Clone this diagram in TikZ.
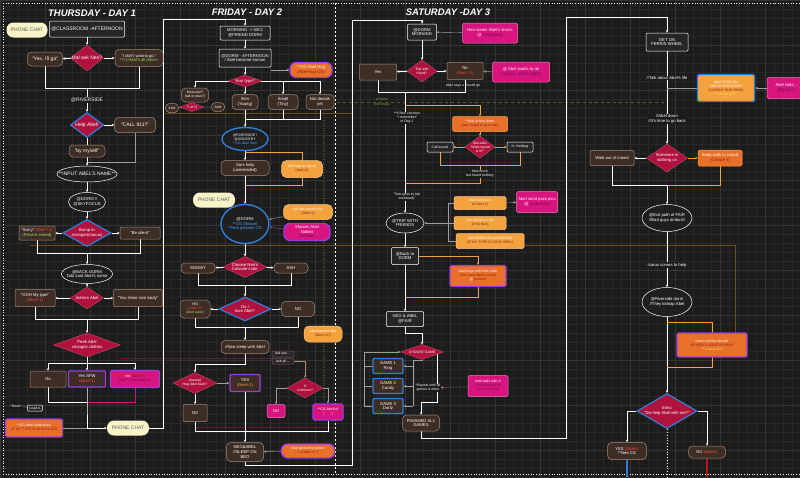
\documentclass[tikz,border=0pt]{standalone}
\usepackage{fontspec}
\setmainfont{Liberation Sans}
\usetikzlibrary{shapes.geometric,arrows.meta}
\definecolor{bg}{HTML}{1C1C1C}
\definecolor{gridc}{HTML}{282828}
\definecolor{gridm}{HTML}{343434}
\definecolor{brownf}{HTML}{3D2D24}
\definecolor{brownd}{HTML}{9E8B7B}
\definecolor{crim}{HTML}{B0123E}
\definecolor{blueb}{HTML}{2F7FD8}
\definecolor{bluet}{HTML}{4AA3FF}
\definecolor{orangef}{HTML}{E8702A}
\definecolor{orangel}{HTML}{F3A23E}
\definecolor{magf}{HTML}{D8157F}
\definecolor{pinkb}{HTML}{F07AB8}
\definecolor{purb}{HTML}{9A3CE0}
\definecolor{creamf}{HTML}{F8F4C8}
\definecolor{redt}{HTML}{FF4545}
\definecolor{greent}{HTML}{9FE060}
\definecolor{subo}{HTML}{8A1C12}
\definecolor{subm}{HTML}{6E0D45}
\definecolor{faintor}{HTML}{6E4A20}
\definecolor{faintred}{HTML}{6A1A30}
\definecolor{olivef}{HTML}{5A5A22}
\definecolor{redl}{HTML}{C01818}
\definecolor{cgy}{HTML}{FFE14A}
\pgfdeclarelayer{gridl}
\pgfdeclarelayer{edges}
\pgfsetlayers{gridl,edges,main}
\tikzset{
 txt/.style={font=\fontsize{5}{5.7}\selectfont, align=center, text=white, inner sep=0.8pt},
 tny/.style={font=\fontsize{4.2}{4.8}\selectfont},
 micro/.style={font=\fontsize{3.5}{4}\selectfont},
 hdr/.style={font=\bfseries\itshape\fontsize{9.5}{10}\selectfont, text=white},
 pill/.style={txt, rounded corners=4pt, draw=brownd, fill=brownf, line width=0.5pt},
 bbox/.style={txt, rounded corners=1pt, draw=brownd, fill=brownf, line width=0.5pt},
 dbox/.style={txt, rounded corners=1pt, draw=white!80, fill=black!85, line width=0.5pt},
 dia/.style={shape=diamond, fill=crim, draw=crim!70!white, line width=0.3pt, inner sep=0pt},
 bdia/.style={dia, draw=blueb, line width=1.2pt},
 dlab/.style={txt, inner sep=0pt},
 ell/.style={shape=ellipse, draw=white!85, fill=black!88, line width=0.5pt, inner sep=0pt},
 bell/.style={ell, draw=blueb, line width=1.4pt},
 cream/.style={txt, rounded corners=7pt, fill=creamf, text=black!65},
 orng/.style={txt, rounded corners=1.5pt, fill=orangef, draw=orangel, line width=0.5pt},
 orpl/.style={txt, rounded corners=5pt, fill=orangel, draw=orangel!60!white, line width=0.5pt},
 orp/.style={txt, rounded corners=1.5pt, fill=orangef, draw=purb, line width=1.3pt},
 mag/.style={txt, rounded corners=1.5pt, fill=magf, draw=pinkb, line width=0.5pt},
 magp/.style={mag, draw=purb, line width=1.3pt},
 gbox/.style={txt, rounded corners=1pt, fill=brownf, draw=blueb, line width=1.4pt},
 note/.style={txt, fill=bg, inner sep=0.6pt},
 flow/.style={draw=white!92, line width=1pt},
 oflow/.style={draw=orangel, line width=1pt},
 thn/.style={draw=gray!75, line width=0.4pt},
 arr/.style={-{Stealth[length=2.6pt,width=2.4pt]}},
}
\begin{document}
\begin{tikzpicture}[x=1pt,y=-1pt]
\useasboundingbox (0,0) rectangle (800,477);
\begin{pgfonlayer}{gridl}
\fill[bg] (0,0) rectangle (800,477);
\foreach \g in {0,9,...,800} \draw[gridc, line width=0.3pt] (\g,0) -- (\g,477);
\foreach \g in {0,9,...,477} \draw[gridc, line width=0.3pt] (0,\g) -- (800,\g);
\foreach \g in {0,45,...,800} \draw[gridm, line width=0.4pt] (\g,0) -- (\g,477);
\foreach \g in {0,45,...,477} \draw[gridm, line width=0.4pt] (0,\g) -- (800,\g);
\draw[white!70, dotted, line width=0.6pt] (3,3) -- (800,3);
\draw[white!70, dotted, line width=0.6pt] (3,474) -- (800,474);
\draw[white!70, dotted, line width=0.6pt] (3,3) -- (3,474);
\draw[white!80, dash pattern=on 2pt off 2pt, line width=0.5pt] (335,3) -- (335,474);
\draw[olivef, dotted, line width=0.6pt] (323,120) -- (323,400);
\draw[faintor, line width=0.6pt] (30,245) -- (735,245) -- (735,333);
\draw[faintor, line width=0.5pt] (165,113) -- (352,113);
\draw[olivef, dashed, line width=0.4pt] (337,102) -- (668,102);
\draw[faintred, line width=0.6pt] (120,358) -- (272,358);
\draw[faintred, line width=0.6pt] (195,427) -- (335,427);
\end{pgfonlayer}

% headers
\node[hdr] (h-thu) at (92,13) {THURSDAY - DAY 1};
\node[hdr] (h-fri) at (247,12) {FRIDAY - DAY 2};
\node[hdr] (h-sat) at (448,12) {SATURDAY -DAY 3};

% ---------------- THURSDAY ----------------
\node[cream, minimum width=41, minimum height=15] (t-phone1) at (27,30) {PHONE CHAT};
\node[dbox, minimum width=75, minimum height=16] (t-class) at (87,29) {@CLASSROOM -AFTERNOON};
\node[dia, minimum width=33, minimum height=26, label={[dlab]center:Mal ask Neo?}] (t-mal) at (87,58) {};
\node[pill, minimum width=35, minimum height=14] (t-yes) at (45,59) {"Yes, I'll go"};
\node[pill, tny, minimum width=48, minimum height=17] (t-no) at (139,58) {"I don't wanna go."\\\textcolor{greent}{**+1<Mal's all done>}};
\node[note] (t-riv) at (87,100) {@RIVERSIDE};
\node[bdia, minimum width=33, minimum height=25, label={[dlab]center:Help Abel!}] (t-help) at (87,125) {};
\node[pill, minimum width=41, minimum height=15] (t-911) at (135,125) {"CALL 911?"};
\node[pill, minimum width=36, minimum height=12] (t-self) at (87,151) {"by myself"};
\node[ell, minimum width=60, minimum height=16, label={[dlab]center:**INPUT ABEL'S NAME**}] (t-input) at (87,174) {};
\node[ell, minimum width=37, minimum height=19, label={[dlab,tny]center:{@DORM //\\@SKYFOCUS}}] (t-dorm) at (87,202) {};
\node[bdia, minimum width=48, minimum height=27, label={[dlab,tny]center:{Bump to\\stranger(manus)}}] (t-bump) at (87,233) {};
\node[bbox, tny, minimum width=36, minimum height=14] (t-sorry) at (37,233) {"Sorry" \textcolor{redt}{(Abel +1)}\\\textcolor{greent}{(Pervert ended)}};
\node[bbox, tny, minimum width=40, minimum height=12] (t-silent) at (140,233) {"Be silent"};
\node[ell, minimum width=51, minimum height=19, label={[dlab,tny]center:{@BACK DORM\\Tabi said Abel's name}}] (t-back) at (87,274) {};
\node[dia, minimum width=33, minimum height=22, label={[dlab,tny]center:Admire Abel}] (t-admire) at (87,298) {};
\node[bbox, tny, minimum width=40, minimum height=17] (t-ooh) at (35,298) {"OOH My type"\\\textcolor{redt}{(Abel+1)}};
\node[bbox, tny, minimum width=49, minimum height=17] (t-shine) at (138,298) {"You shine nice body"};
\node[dia, minimum width=67, minimum height=24, label={[dlab,tny]center:{Peek Abel\\changes clothes}}] (t-peek) at (87,345) {};
\node[bbox, tny, minimum width=36, minimum height=16] (t-pno) at (48,379) {No};
\node[bbox, tny, draw=purb, line width=1.2pt, minimum width=37, minimum height=16] (t-psfw) at (87,379) {Yes SFW\\\textcolor{redt}{(Abel+1)}};
\node[magp, micro, minimum width=49, minimum height=17] (t-pnsfw) at (135,379) {Yes \textcolor{subm}{(Abel+?)}\\\textcolor{subm}{(NSFW path unlock)}};
\node[dbox, micro, minimum width=15, minimum height=6] (t-load) at (35,408) {Load A};
\node[txt, micro] (t-soon) at (16,406) {*Soon*};
\node[orp, micro, minimum width=57, minimum height=18] (t-cgpose) at (34,428) {**CG Abel show pose\\\textcolor{subo}{(IF MY TYPE IS MUSCULAR)}};
\node[cream, minimum width=42, minimum height=15] (t-phone2) at (128,428) {PHONE CHAT};

% ---------------- FRIDAY ----------------
\node[dbox, tny, minimum width=50, minimum height=14] (f-morn) at (245,33) {MORNING -> NEO\\@FRIEND DORM};
\node[dbox, tny, minimum width=52, minimum height=18] (f-aft) at (245,58) {@DORM - AFTERNOON\\/ Abel become human};
\node[orp, tny, rounded corners=6pt, minimum width=42, minimum height=15] (f-hug) at (311,70) {**CG Abel Hug\\\textcolor{subo}{(Abel Hug CG)}};
\node[dia, minimum width=34, minimum height=12, label={[dlab,tny]center:Your type?}] (f-type) at (245,81) {};
\node[pill, micro, minimum width=27, minimum height=14] (f-musc) at (195,95) {Muscular?\\(tall or plus?)};
\node[dia, minimum width=24, minimum height=9, label={[dlab,micro]center:Y or N}] (f-yn) at (192,107) {};
\node[pill, micro, minimum width=13, minimum height=9] (t-abel) at (172,108) {Abel};
\node[pill, micro, minimum width=13, minimum height=9] (f-abel) at (218,107) {Abel};
\node[pill, tny, minimum width=26, minimum height=15] (f-slim) at (245,102) {Slim\\(Young)};
\node[pill, tny, minimum width=30, minimum height=15] (f-small) at (283,102) {Small\\(Tiny)};
\node[pill, tny, minimum width=28, minimum height=15] (f-notd) at (320,102) {Not decide\\yet};
\node[bell, minimum width=46, minimum height=23, label={[dlab,micro]center:{@RIVERSIDE /\\@GROCERY\\\textcolor{bluet}{**CG Abel Sam}}}] (f-riv) at (245,139) {};
\node[pill, tny, minimum width=48, minimum height=15] (f-sors) at (245,168) {Sors help\\(unintended)};
\node[orpl, micro, minimum width=41, minimum height=17] (f-askhelp) at (302,169) {Ask help us (para)\\\textcolor{subo}{(Abel+1)}};
\node[cream, minimum width=42, minimum height=15] (f-phone) at (214,200) {PHONE CHAT};
\node[bell, minimum width=48, minimum height=39, label={[dlab,tny]center:{@DORM\\\textcolor{bluet}{**CG Shower}\\\textcolor{bluet}{**Neo glasses CG}}}] (f-dorm) at (245,224) {};
\node[orpl, micro, minimum width=49, minimum height=15] (f-natural) at (308,212) {Ask abt natural look\\\textcolor{subo}{(Abel+1)}};
\node[magp, tny, rounded corners=6pt, minimum width=46, minimum height=17] (f-shower) at (307,232) {Shower Abel\\Naked\\\textcolor{subm}{(unlock)}};
\node[dia, minimum width=44, minimum height=21, label={[dlab,tny]center:{Choose Neo's\\furisode color}}] (f-choose) at (245,267) {};
\node[pill, tny, minimum width=34, minimum height=10] (f-snowy) at (198,268) {SNOWY};
\node[pill, tny, minimum width=34, minimum height=10] (f-ash) at (291,268) {ASH};
\node[bdia, minimum width=52, minimum height=24, label={[dlab,tny]center:{Do I\\love Abel?}}] (f-love) at (245,309) {};
\node[pill, micro, minimum width=30, minimum height=18] (f-yes) at (195,309) {YES\\\textcolor{redt}{(Abel+?)}\\\textcolor{greent}{(Abel party)}};
\node[pill, tny, minimum width=33, minimum height=15] (f-no) at (298,309) {NO};
\node[orpl, micro, minimum width=38, minimum height=16] (f-become) at (323,334) {Abel become like\\\textcolor{subo}{(Abel+1/?)}};
\node[pill, tny, minimum width=48, minimum height=13] (f-sleep) at (245,347) {//Neo sleep with Abel};
\node[dbox, micro, draw=pinkb!60!black, minimum width=22, minimum height=6, inner sep=0.3pt] (f-ask1) at (283,354) {Ask you ...};
\node[dbox, micro, draw=pinkb!60!black, minimum width=22, minimum height=6, inner sep=0.3pt] (f-ask2) at (283,361) {Ask all ...};
\node[dia, minimum width=44, minimum height=21, label={[dlab,micro]center:{(sweep)\\Hug Abel back?}}] (f-hugb) at (195,383) {};
\node[bbox, tny, draw=purb, line width=1.2pt, minimum width=30, minimum height=17] (f-hyes) at (245,383) {YES\\\textcolor{orangel}{(Abel+1)}};
\node[dia, minimum width=36, minimum height=20, label={[dlab,micro]center:{If\\Continue?}}] (f-cont) at (305,388) {};
\node[bbox, tny, minimum width=24, minimum height=17] (f-hno) at (195,413) {NO};
\node[mag, tny, minimum width=18, minimum height=13] (f-cno) at (276,411) {NO};
\node[magp, micro, minimum width=30, minimum height=16] (f-cghit) at (328,412) {**CG Abel hit\\(\quad\quad)};
\node[pill, tny, minimum width=37, minimum height=19] (f-bed) at (245,452) {NEO\&ABEL\\//SLEEP ON\\BED};
\node[orp, micro, rounded corners=6pt, minimum width=53, minimum height=14] (f-potion) at (308,451) {Abel gives first potion\\\textcolor{subo}{( of Abel ++ )}};

% ---------------- SATURDAY ----------------
\node[dbox, tny, minimum width=29, minimum height=16] (s-dorm) at (422,32) {@DORM\\MORNING};
\node[mag, tny, minimum width=55, minimum height=20] (s-stare) at (490,33) {Neo stares Abel's shorts\\@ \textcolor{subm}{(unlocked)}};
\node[dia, minimum width=30, minimum height=22, label={[dlab,micro]center:{Trip with\\friend?}}] (s-trip) at (422,71) {};
\node[bbox, tny, minimum width=37, minimum height=16] (s-yes) at (378,72) {Yes};
\node[bbox, tny, minimum width=36, minimum height=17] (s-no) at (465,71) {No\\\textcolor{redt}{(Abel +1)}};
\node[txt, micro] (s-says) at (463,86) {Abel says u should go};
\node[mag, tny, minimum width=57, minimum height=20] (s-wants) at (521,72) {@ Abel wants to do\\\textcolor{subm}{(unlock: Abel's night)}};
\node[txt, micro, text=greent!75!black] (s-gt1) at (382,99) {to dorm};
\node[txt, micro, text=greent!75!black] (s-gt2) at (382,105) {Neo stays};
\node[note, micro] (s-if) at (407,118) {**If Neo chooses\\"I remember"\\in Day 1};
\node[orng, micro, minimum width=55, minimum height=15] (s-maldorm) at (480,124) {**Mal at Neo dorm\\\textcolor{subo}{(Neo forgot to go to trip)}};
\node[dia, minimum width=30, minimum height=22, label={[dlab,micro]center:{Mal asks\\"What would\\is it?"}}] (s-malask) at (480,147) {};
\node[dbox, micro, minimum width=26, minimum height=10] (s-call) at (440,147) {Call sound};
\node[dbox, micro, minimum width=26, minimum height=10] (s-noth) at (520,147) {N- Nothing};
\node[note, micro] (s-check) at (480,174) {Mal check\\but found nothing};
\node[note, micro] (s-goes) at (407,197) {"Neo goes to trip\\eventually"};
\node[ell, minimum width=38, minimum height=20, label={[dlab,tny]center:{@TRIP WITH\\FRIENDS}}] (s-tripf) at (405,223) {};
\node[orpl, micro, rounded corners=1.5pt, minimum width=52, minimum height=13] (s-box1) at (480,203) {Abel send pics\\\textcolor{subo}{(If Neo+1)}};
\node[orpl, micro, rounded corners=1.5pt, minimum width=52, minimum height=13] (s-box2) at (480,223) {Ask abt Neo's trip\\\textcolor{subo}{(If Nit Neo)}};
\node[orpl, micro, rounded corners=1.5pt, minimum width=68, minimum height=15] (s-box3) at (490,241) {Abel Reflect Crowd (MOON)\\\textcolor{subo}{(IF MY TYPE IS LOVE ABEL)}};
\node[mag, tny, minimum width=41, minimum height=21] (s-pack) at (537,202) {Abel send pack pics\\@ \textcolor{subm}{(unlocked)}};
\node[dbox, tny, minimum width=27, minimum height=17] (s-backd) at (405,256) {@Back to\\DORM};
\node[orp, micro, minimum width=56, minimum height=21] (s-hugs) at (478,276) {Abel hugs with Neo cloth\\\textcolor{subo}{(Neo gets Abel's scent)}\\@ \textcolor{subo}{(unlock)}};
\node[dbox, tny, minimum width=37, minimum height=15] (s-fair) at (405,319) {NEO \& ABEL\\@FAIR};
\node[dia, minimum width=43, minimum height=15, label={[dlab,micro]center:CHOOSE GAME}] (s-game) at (422,352) {};
\node[gbox, tny, minimum width=30, minimum height=15] (s-game1) at (388,366) {GAME 1\\Ring};
\node[gbox, tny, minimum width=30, minimum height=15] (s-game2) at (388,386) {GAME 2\\Candy};
\node[gbox, tny, minimum width=30, minimum height=15] (s-game3) at (388,406) {GAME 3\\Dartz};
\node[note, micro] (s-rep) at (428,388) {*Repeat until all\\games is done};
\node[mag, micro, minimum width=40, minimum height=21] (s-talks) at (488,386) {Abel talks with X\\\textcolor{subm}{(If Neo chose X)}\\\textcolor{subm}{(CG unlock X)}};
\node[pill, tny, minimum width=37, minimum height=16] (s-fin) at (421,423) {FINISHED ALL\\GAMES};

% ---------------- FERRIS ----------------
\node[dbox, tny, minimum width=42, minimum height=18] (r-ferris) at (667,42) {GET ON\\FERRIS WHEEL};
\node[note, tny] (r-talk) at (667,78) {//Talk about Abel's life};
\node[txt, micro, rounded corners=1.5pt, fill=orangel, draw=blueb, line width=1.4pt, minimum width=57, minimum height=27] (r-head) at (726,88) {Abel HEAD ON\\NEO'S SHOULDER\\\textcolor{subo}{(CUDDLE HUG RING)}\\\textcolor{cgy}{**unlock CG**}};
\node[mag, tny, minimum width=40, minimum height=21] (r-talks) at (787,88) {Abel talks ...\\\textcolor{subm}{(Elysia+1)}};
\node[note, tny] (r-down) at (667,119) {//Abel down\\//It's time to go back};
\node[dia, minimum width=41, minimum height=28, label={[dlab,tny]center:{Someone is\\stalking us}}] (r-stalk) at (667,158) {};
\node[bbox, tny, minimum width=44, minimum height=15] (r-walk) at (612,158) {Walk out of crowd};
\node[orng, tny, minimum width=44, minimum height=16] (r-keep) at (720,158) {Keep walk in crowd\\\textcolor{subo}{(Crowd+1)}};
\node[ell, minimum width=50, minimum height=27, label={[dlab,tny]center:{@Exit path of FAIR\\//Bad guys ambush}}] (r-exit) at (667,218) {};
\node[note, tny] (r-icarus) at (667,265) {Icarus comes to help};
\node[ell, minimum width=50, minimum height=29, label={[dlab,tny]center:{@Riverside dorm\\//They kidnap Abel}}] (r-rivd) at (667,302) {};
\node[orp, micro, minimum width=70, minimum height=24] (r-icd) at (712,345) {Icarus let Neo decide\\\textcolor{subo}{(IF ABEL'S LOVE IS HIGH)}\\** \textcolor{cgy}{unlock CG}};
\node[bdia, minimum width=60, minimum height=35, label={[dlab,tny]center:{Elmo\\"Do help Abel with me?"}}] (r-elmo) at (667,411) {};
\node[pill, tny, minimum width=39, minimum height=17] (r-yes) at (627,451) {YES \textcolor{redt}{(Abel+)}\\**Neo CG};
\node[pill, tny, minimum width=37, minimum height=12] (r-no) at (707,452) {NO \textcolor{redt}{(Abel+)}};

% coordinates
\coordinate (t-j1) at (87,88);
\coordinate (t-j2) at (87,162);
\coordinate (t-j3) at (87,253);
\coordinate (t-j4) at (87,319);
\coordinate (t-j5) at (87,363);
\coordinate (t-l5) at (48,363);
\coordinate (t-r5) at (135,363);
\coordinate (t-j6) at (87,402);
\coordinate (t-j7) at (87,428);
\coordinate (c-t1) at (163,19);
\coordinate (f-l) at (195,81);
\coordinate (f-m) at (283,81);
\coordinate (f-r) at (320,81);
\coordinate (f-j1) at (245,119);
\coordinate (f-o1) at (245,152);
\coordinate (f-o2) at (302,152);
\coordinate (f-o3) at (302,185);
\coordinate (f-o4) at (245,185);
\coordinate (f-j2) at (245,285);
\coordinate (f-j3) at (245,327);
\coordinate (f-j4) at (245,364);
\coordinate (f-j5) at (195,364);
\coordinate (f-j6) at (195,431);
\coordinate (f-j7) at (328,431);
\coordinate (c-f1) at (352,465);
\coordinate (c-f2) at (352,20);
\coordinate (s-j1) at (405,92);
\coordinate (s-j2) at (405,105);
\coordinate (s-j3) at (480,165);
\coordinate (s-j4) at (480,183);
\coordinate (s-j5) at (405,183);
\coordinate (s-b) at (448,223);
\coordinate (s-j6) at (405,297);
\coordinate (s-j7) at (405,333);
\coordinate (s-j8) at (422,333);
\coordinate (s-lb) at (364,352);
\coordinate (s-rt) at (413,360);
\coordinate (s-rb) at (413,406);
\coordinate (s-f1) at (437,402);
\coordinate (c-s1) at (566,438);
\coordinate (c-s2) at (566,17);
\coordinate (r-h) at (667,88);
\coordinate (r-j1) at (667,185);
\coordinate (r-o1) at (667,322);
\coordinate (r-o2) at (712,322);
\coordinate (r-o3) at (712,367);
\coordinate (r-o4) at (667,367);
\coordinate (r-yb) at (627,477);
\coordinate (r-nb) at (707,477);
\coordinate (r-eb) at (667,477);

\begin{pgfonlayer}{edges}
% Thursday
\draw[flow, arr] (t-class) -- (t-mal);
\draw[flow, arr] (t-mal) -- (t-yes);
\draw[flow, arr] (t-mal) -- (t-no);
\draw[flow] (t-yes) |- (t-j1);
\draw[flow] (t-no) |- (t-j1);
\draw[flow, arr] (t-j1) -- (t-help);
\draw[flow, arr] (t-help) -- (t-911);
\draw[flow] (t-help) -- (t-self);
\draw[thn] (t-911) |- (t-j2);
\draw[flow, arr] (t-self) -- (t-input);
\draw[flow, arr] (t-input) -- (t-dorm);
\draw[flow, arr] (t-dorm) -- (t-bump);
\draw[flow, arr] (t-bump) -- (t-sorry);
\draw[flow, arr] (t-bump) -- (t-silent);
\draw[flow] (t-sorry) |- (t-j3);
\draw[flow] (t-silent) |- (t-j3);
\draw[flow, arr] (t-j3) -- (t-back);
\draw[flow, arr] (t-back) -- (t-admire);
\draw[flow, arr] (t-admire) -- (t-ooh);
\draw[flow, arr] (t-admire) -- (t-shine);
\draw[flow] (t-ooh) |- (t-j4);
\draw[flow] (t-shine) |- (t-j4);
\draw[flow, arr] (t-j4) -- (t-peek);
\draw[flow] (t-peek) -- (t-j5);
\draw[flow] (t-l5) -- (t-r5);
\draw[flow, arr] (t-l5) -- (t-pno);
\draw[flow, arr] (t-j5) -- (t-psfw);
\draw[flow, arr] (t-r5) -- (t-pnsfw);
\draw[flow] (t-pno) |- (t-j6);
\draw[flow, draw=magf] (t-pnsfw) |- (t-j6);
\draw[flow] (t-psfw) -- (t-j6) -- (t-j7);
\draw[flow, arr] (t-j7) -- (t-phone2);
\draw[thn] (t-cgpose) -- (t-j7);
\draw[thn] (t-soon) -- (t-load);
\draw[flow, arr] (t-phone2) -| (c-t1) -| (f-morn);
% Friday
\draw[flow, arr] (f-morn) -- (f-aft);
\draw[thn, arr] (f-aft.east |- f-hug) -- (f-hug);
\draw[flow, arr] (f-aft) -- (f-type);
\draw[flow] (f-l) -- (f-r);
\draw[flow, arr] (f-l) -- (f-musc);
\draw[flow, arr] (f-type) -- (f-slim);
\draw[flow, arr] (f-m) -- (f-small);
\draw[flow, arr] (f-r) -- (f-notd);
\draw[thn] (t-abel) -- (f-yn) -- (f-abel);
\draw[flow] (f-slim) -- (f-j1);
\draw[flow] (f-small) |- (f-j1);
\draw[flow] (f-notd) |- (f-j1);
\draw[flow, arr] (f-j1) -- (f-riv);
\draw[flow, arr] (f-riv) -- (f-sors);
\draw[oflow, line width=0.8pt] (f-o1) -- (f-o2) -- (f-o3) -- (f-o4);
\draw[flow, arr] (f-sors) -- (f-dorm);
\draw[thn, arr] (f-natural) -- (f-dorm);
\draw[thn, draw=pinkb!60!black, arr] (f-shower) -- (f-dorm);
\draw[flow, arr] (f-dorm) -- (f-choose);
\draw[flow, arr] (f-choose) -- (f-snowy);
\draw[flow, arr] (f-choose) -- (f-ash);
\draw[flow] (f-snowy) |- (f-j2);
\draw[flow] (f-ash) |- (f-j2);
\draw[flow, arr] (f-j2) -- (f-love);
\draw[flow, arr] (f-love) -- (f-yes);
\draw[flow, arr] (f-love) -- (f-no);
\draw[flow] (f-yes) |- (f-j3);
\draw[flow] (f-no) |- (f-j3);
\draw[flow, arr] (f-j3) -- (f-sleep);
\draw[flow] (f-sleep) -- (f-j4) -- (f-j5);
\draw[flow, arr] (f-j5) -- (f-hugb);
\draw[thn, arr] (f-hugb) -- (f-hyes);
\draw[flow, arr] (f-hugb) -- (f-hno);
\draw[flow, arr] (f-hyes) -- (f-bed);
\draw[thn, draw=brownd, arr] (f-ask2) -| (f-cont);
\draw[thn, arr] (f-cont) -| (f-cno);
\draw[thn, arr] (f-cont) -| (f-cghit);
\draw[flow] (f-hno) -- (f-j6) -- (f-j7) -- (f-cghit);
\draw[thn, arr] (f-potion) -- (f-bed);
\draw[flow, arr] (f-bed) |- (c-f1) -- (c-f2) -| (s-dorm);
% Saturday
\draw[thn, arr] (s-stare) -- (s-dorm);
\draw[flow, arr] (s-dorm) -- (s-trip);
\draw[flow, arr] (s-trip) -- (s-yes);
\draw[flow, arr] (s-trip) -- (s-no);
\draw[thn, arr] (s-wants) -- (s-no);
\draw[flow] (s-yes) |- (s-j1);
\draw[flow] (s-no) |- (s-j1);
\draw[flow, arr] (s-j1) -- (s-tripf);
\draw[oflow, arr] (s-j2) -| (s-maldorm);
\draw[oflow, arr] (s-maldorm) -- (s-malask);
\draw[oflow, arr] (s-malask) -- (s-call);
\draw[oflow, arr] (s-malask) -- (s-noth);
\draw[oflow] (s-call) |- (s-j3);
\draw[oflow] (s-noth) |- (s-j3);
\draw[oflow] (s-j3) -- (s-j4) -- (s-j5);
\draw[thn] (s-box1) -| (s-b);
\draw[thn] (s-box3) -| (s-b);
\draw[thn] (s-box2) -- (s-b);
\draw[thn, arr] (s-b) -- (s-tripf);
\draw[thn, arr] (s-box1) -- (s-pack);
\draw[flow, arr] (s-tripf) -- (s-backd);
\draw[oflow, arr] (s-backd) -| (s-hugs);
\draw[oflow] (s-hugs) |- (s-j6);
\draw[flow, arr] (s-backd) -- (s-fair);
\draw[flow, arr] (s-fair) -- (s-j7) -- (s-j8) -- (s-game);
\draw[thn] (s-game3) -| (s-lb);
\draw[thn, arr] (s-lb) -- (s-game);
\draw[thn] (s-game1) -- (s-game1.west -| s-lb);
\draw[thn] (s-game2) -- (s-game2.west -| s-lb);
\draw[thn] (s-game) |- (s-rt) -- (s-rb);
\draw[thn, arr] (s-game1.east -| s-rt) -- (s-game1);
\draw[thn, arr] (s-game2.east -| s-rt) -- (s-game2);
\draw[thn, arr] (s-game3.east -| s-rt) -- (s-game3);
\draw[flow, arr] (s-game.center -| s-f1) -- (s-f1) -| (s-fin);
\draw[thn, densely dotted, draw=pinkb, arr] (s-talks) -- (s-rep);
\draw[flow, arr] (s-fin) |- (c-s1) -- (c-s2) -| (r-ferris);
% Ferris
\draw[flow, arr] (r-ferris) -- (r-stalk);
\draw[thn] (r-head) -- (r-h);
\draw[thn, arr] (r-talks) -- (r-head);
\draw[flow, arr] (r-stalk) -- (r-walk);
\draw[oflow, arr] (r-stalk) -- (r-keep);
\draw[flow] (r-walk) |- (r-j1);
\draw[oflow] (r-keep) |- (r-j1);
\draw[flow, arr] (r-j1) -- (r-exit);
\draw[flow, arr] (r-exit) -- (r-rivd);
\draw[flow, arr] (r-rivd) -- (r-elmo);
\draw[oflow, line width=0.8pt] (r-o1) -- (r-o2) -- (r-o3) -- (r-o4);
\draw[thn, draw=white!80, arr] (r-elmo) -| (r-yes);
\draw[thn, draw=white!80, arr] (r-elmo) -| (r-no);
\draw[blueb, line width=2.5pt] (r-yes) -- (r-yb);
\draw[redl, line width=2.5pt] (r-no) -- (r-nb);
\draw[white!85, dotted, line width=0.8pt] (r-elmo) -- (r-eb);
\end{pgfonlayer}
\end{tikzpicture}
\end{document}
